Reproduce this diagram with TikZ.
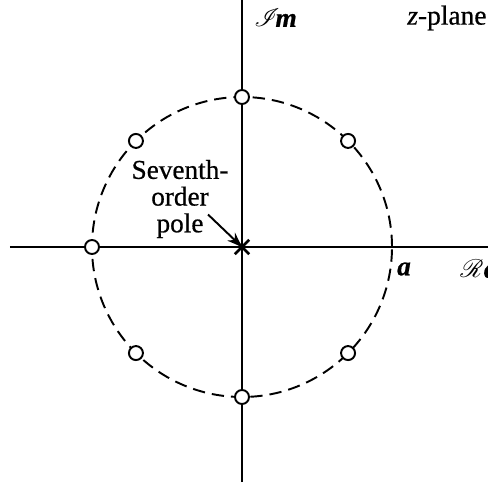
\documentclass[tikz,border=0pt]{standalone}
\usepackage{fontspec}
\setmainfont[FakeBold=0.6]{Liberation Serif}
\usepackage{amsmath}
\usepackage{mathrsfs}
\usepackage{tikz}
\usetikzlibrary{arrows.meta,positioning,calc,shapes.misc}
\tikzset{
  axisline/.style={line width=1.3pt,draw=black},
  unitcircle/.style={line width=1.1pt,draw=black,dash pattern=on 7pt off 4pt},
  zeromark/.style={circle,draw=black,fill=white,line width=1.1pt,minimum size=2.8mm,inner sep=0pt},
  polemark/.style={cross out,draw=black,line width=1.6pt,minimum size=2.3mm,inner sep=0pt},
  axislabel/.style={font=\fontsize{15.6}{16}\selectfont,inner sep=0pt},
  notelabel/.style={font=\fontsize{15.5}{15.2}\selectfont,align=center,inner sep=0pt},
  notearrow/.style={-{Stealth[length=3mm,width=2.2mm]},line width=1.1pt},
}

\begin{document}
\begin{tikzpicture}
  \useasboundingbox (-4.84,-4.70) rectangle (4.92,4.94);
  % axes
  \coordinate (origin) at (0,0);
  \draw[axisline] (-4.64,0) -- (4.92,0);
  \draw[axisline] (0,-4.70) -- (0,4.94);
  % circle of radius a
  \draw[unitcircle] (origin) circle (3);
  % zeros and pole
  \foreach \ang in {45,90,...,315}
    \node[zeromark] (zero\ang) at (\ang:3) {};
  \node[polemark] (pole) at (origin) {};
  % labels
  \node[axislabel,anchor=west] (imlabel) at (0.24,4.58) {$\boldsymbol{\mathscr{I}}\!$\textbf{\textit{m}}};
  \node[axislabel,anchor=west] (planelabel) at (3.30,4.58) {\textit{z}-plane};
  \node[axislabel] (alabel) at (3.24,-0.44) {\textbf{\textit{a}}};
  \node[axislabel,anchor=west] (relabel) at (4.36,-0.44) {$\boldsymbol{\mathscr{R}}$\textbf{\textit{e}}};
  \node[notelabel] (polelabel) at (-1.24,0.96) {Seventh-\\order\\pole};
  \coordinate (tail) at (-0.68,0.65);
  \draw[notearrow] (tail) -- (pole.center);
\end{tikzpicture}
\end{document}
